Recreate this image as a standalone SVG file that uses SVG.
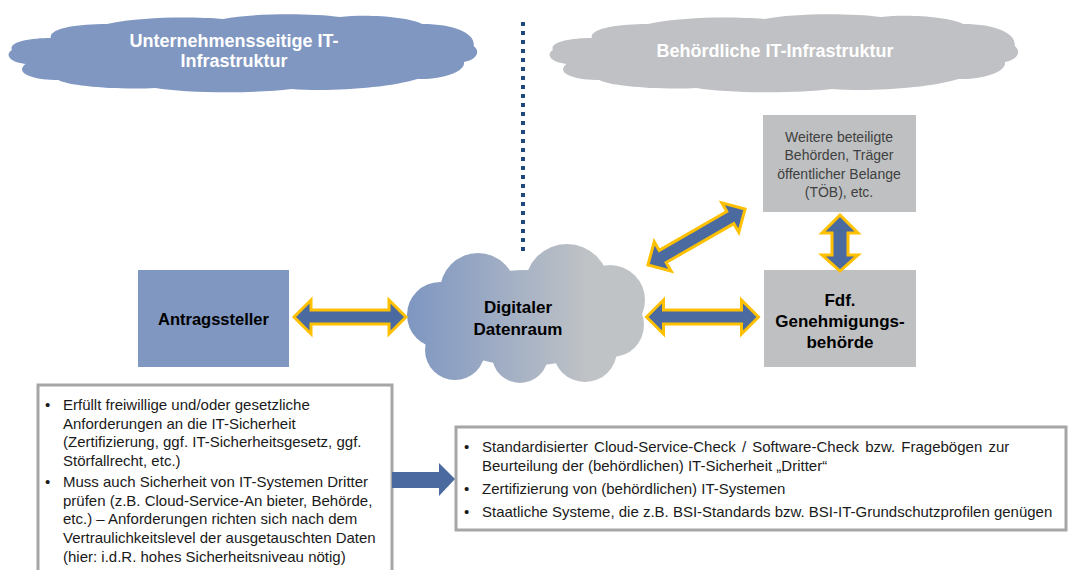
<svg xmlns="http://www.w3.org/2000/svg" xmlns:xlink="http://www.w3.org/1999/xlink" width="1069" height="570" viewBox="0 0 1069 570">
<style>
text{font-family:"Liberation Sans",Arial,sans-serif}
.cloudtxt{font-size:18px;font-weight:bold;fill:#ffffff;text-anchor:middle}
.blue{fill:#7f97c1}
.gray{fill:#bfc0c2}
.arr{fill:#4a6aa0;stroke:#ffc000;stroke-width:3;stroke-linejoin:miter}
.lbl{font-size:17px;font-weight:bold;fill:#000;text-anchor:middle}
.small{font-size:14px;fill:#404040;text-anchor:middle}
.list{font-size:15px;fill:#1a1a1a}
.frame{fill:#fff;stroke:#a6a6a6;stroke-width:3}
</style>
<defs>
<linearGradient id="cg" gradientUnits="userSpaceOnUse" x1="410" y1="0" x2="590" y2="0">
<stop offset="0" stop-color="#7f97c1"/>
<stop offset="1" stop-color="#c0c3c6"/>
</linearGradient>
<path id="cloudTop" d="M 12,50 C 8,42 30,38 52,38 C 50,28 80,24 110,24 C 150,16 200,17 230,19 C 260,13 320,13 350,17 C 380,14 420,17 435,24 C 470,24 490,34 488,46 C 496,52 490,60 478,62 C 480,72 455,80 430,79 C 400,88 340,92 300,89 C 260,94 190,93 160,88 C 120,90 70,86 60,80 C 30,80 15,72 26,64 C 8,62 5,54 12,50 Z"/>
<path id="dbl" d="M -56,0 L -39,-17 L -39,-7 L 39,-7 L 39,-17 L 56,0 L 39,17 L 39,7 L -39,7 L -39,17 Z"/>
</defs>
<rect width="1069" height="570" fill="#ffffff"/>

<g id="cloud-company">
<use xlink:href="#cloudTop" class="blue" transform="translate(10,0) scale(0.97,1) translate(-10,0)"/>
<text class="cloudtxt" x="234" y="47">Unternehmensseitige IT-</text>
<text class="cloudtxt" x="234" y="67">Infrastruktur</text>
</g>

<g id="cloud-authority">
<use xlink:href="#cloudTop" transform="translate(551,0) scale(0.97,1) translate(-10,0)" fill="#bfc1c4"/>
<text class="cloudtxt" x="775" y="57">Behördliche IT-Infrastruktur</text>
</g>

<g id="divider">
<line x1="523" y1="22" x2="523" y2="252" stroke="#1f497d" stroke-width="4" stroke-dasharray="4 5"/>
</g>

<g id="cloud-data" fill="url(#cg)">
<ellipse cx="526" cy="318" rx="92" ry="48"/>
<circle cx="478" cy="291" r="38"/>
<circle cx="567" cy="286" r="42"/>
<circle cx="610" cy="300" r="35"/>
<circle cx="612" cy="325" r="32"/>
<circle cx="440" cy="315" r="33"/>
<circle cx="455" cy="350" r="30"/>
<circle cx="520" cy="355" r="28"/>
<circle cx="585" cy="350" r="32"/>
<text class="lbl" x="518" y="313" font-size="18">Digitaler</text>
<text class="lbl" x="518" y="335" font-size="18">Datenraum</text>
</g>

<g id="antragssteller">
<rect class="blue" x="138" y="270" width="151" height="97"/>
<text class="lbl" x="213.5" y="325" style="font-size:16.5px">Antragssteller</text>
</g>

<g id="behoerde">
<rect class="gray" x="764" y="270" width="152" height="97"/>
<text class="lbl" x="840" y="306">Fdf.</text>
<text class="lbl" x="840" y="327">Genehmigungs-</text>
<text class="lbl" x="840" y="348">behörde</text>
</g>

<g id="weitere">
<rect class="gray" x="763" y="115" width="153" height="97"/>
<text class="small" x="839" y="142">Weitere beteiligte</text>
<text class="small" x="839" y="160">Behörden, Träger</text>
<text class="small" x="839" y="179">öffentlicher Belange</text>
<text class="small" x="839" y="197">(TÖB), etc.</text>
</g>

<g id="box-requirements">
<rect class="frame" x="38" y="385" width="354" height="200"/>
<text class="list" x="45" y="410">•</text>
<text class="list" x="63" y="410">Erfüllt freiwillige und/oder gesetzliche</text>
<text class="list" x="63" y="428.7">Anforderungen an die IT-Sicherheit</text>
<text class="list" x="63" y="447.4">(Zertifizierung, ggf. IT-Sicherheitsgesetz, ggf.</text>
<text class="list" x="63" y="466">Störfallrecht, etc.)</text>
<text class="list" x="45" y="487">•</text>
<text class="list" x="63" y="487">Muss auch Sicherheit von IT-Systemen Dritter</text>
<text class="list" x="63" y="505.7">prüfen (z.B. Cloud-Service-An bieter, Behörde,</text>
<text class="list" x="63" y="524.4">etc.) – Anforderungen richten sich nach dem</text>
<text class="list" x="63" y="543">Vertraulichkeitslevel der ausgetauschten Daten</text>
<text class="list" x="63" y="561.8">(hier: i.d.R. hohes Sicherheitsniveau nötig)</text>
</g>

<g id="box-measures">
<rect class="frame" x="456" y="427" width="610" height="103"/>
<text class="list" x="464" y="452">•</text>
<text class="list" x="482" y="452" word-spacing="2">Standardisierter Cloud-Service-Check / Software-Check bzw. Fragebögen zur</text>
<text class="list" x="482" y="471">Beurteilung der (behördlichen) IT-Sicherheit „Dritter“</text>
<text class="list" x="464" y="494">•</text>
<text class="list" x="482" y="494">Zertifizierung von (behördlichen) IT-Systemen</text>
<text class="list" x="464" y="517">•</text>
<text class="list" x="482" y="517">Staatliche Systeme, die z.B. BSI-Standards bzw. BSI-IT-Grundschutzprofilen genügen</text>
</g>

<g id="connectors">
<use xlink:href="#dbl" class="arr" transform="translate(350,317)"/>
<use xlink:href="#dbl" class="arr" transform="translate(702.5,317)"/>
<use xlink:href="#dbl" class="arr" transform="translate(696.5,237) rotate(-29.9)"/>
<path class="arr" d="M 840,215 L 858,233 L 848,233 L 848,255 L 858,255 L 840,271 L 822,255 L 832,255 L 832,233 L 822,233 Z"/>
<path d="M 392,472 L 439,472 L 439,463 L 455,479 L 439,496 L 439,488 L 392,488 Z" fill="#4a6aa0"/>
</g>
</svg>
